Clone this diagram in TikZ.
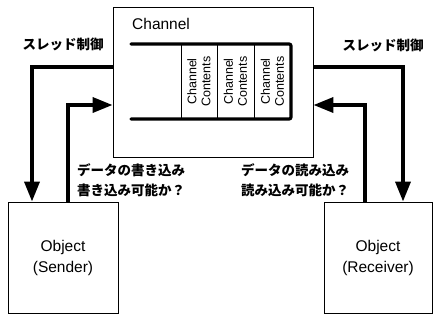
\documentclass[tikz,border=0pt]{standalone}
\usepackage{fontspec}
\setmainfont{Liberation Sans}
\newfontfamily\jp{Noto Sans CJK JP}
\usetikzlibrary{arrows.meta}
\begin{document}
\begin{tikzpicture}[x=1pt,y=-1pt,
  box/.style={draw,line width=0.9pt,inner sep=0pt},
  pipe/.style={line width=3.2pt,line cap=round,rounded corners=2pt},
  divider/.style={line width=1pt},
  flow/.style={line width=3.6pt,-{Triangle[length=20pt,width=15pt]}},
  jlabel/.style={font=\jp\bfseries\fontsize{13.5}{20}\selectfont,inner sep=0pt,align=left},
  objtext/.style={font=\fontsize{15.5}{21}\selectfont,align=center},
  cont/.style={font=\fontsize{12.5}{14}\selectfont,rotate=90,align=center,inner sep=0pt}]
\useasboundingbox (0,0) rectangle (433,325);
% boxes
\node[box,minimum width=200pt,minimum height=150pt] (channel) at (213,82) {};
\node[box,minimum width=110pt,minimum height=111pt] (sender) at (63,257.5) {};
\node[box,minimum width=108pt,minimum height=111pt] (receiver) at (378,257.5) {};
\node[objtext] (sendertext) at (sender.center) {Object\\(Sender)};
\node[objtext] (receivertext) at (receiver.center) {Object\\(Receiver)};
\node[anchor=base west,font=\fontsize{15.5}{18}\selectfont,inner sep=0pt] (chlabel) at (132,29) {Channel};
% pipe
\coordinate (p1) at (131,44);
\coordinate (p2) at (291,44);
\coordinate (p3) at (291,119);
\coordinate (p4) at (131,119);
\draw[pipe] (p1) -- (p2) -- (p3) -- (p4);
\coordinate (d1t) at (181,44); \coordinate (d1b) at (181,119);
\coordinate (d2t) at (217,44); \coordinate (d2b) at (217,119);
\coordinate (d3t) at (254,44); \coordinate (d3b) at (254,119);
\draw[divider] (d1t) -- (d1b);
\draw[divider] (d2t) -- (d2b);
\draw[divider] (d3t) -- (d3b);
\node[cont] (c1) at (199,81.5) {Channel\\Contents};
\node[cont] (c2) at (235.5,81.5) {Channel\\Contents};
\node[cont] (c3) at (272.5,81.5) {Channel\\Contents};
% connectors
\coordinate (yT) at (0,67);
\coordinate (yD) at (0,105);
\coordinate (xL1) at (32,0);
\coordinate (xL2) at (68,0);
\coordinate (xR1) at (403,0);
\coordinate (xR2) at (365,0);
\draw[flow] (channel.west |- yT) -| (sender.north -| xL1);
\draw[flow] (sender.north -| xL2) |- (channel.west |- yD);
\draw[flow] (channel.east |- yT) -| (receiver.north -| xR1);
\draw[flow] (receiver.north -| xR2) |- (channel.east |- yD);
% labels
\node[jlabel] (tl) at (63,44) {スレッド制御};
\node[jlabel] (tr) at (383,45) {スレッド制御};
\node[jlabel,anchor=north west] (wl) at (77,163) {データの書き込み\\書き込み可能か？};
\node[jlabel,anchor=north west] (rl) at (241,163) {データの読み込み\\読み込み可能か？};
\end{tikzpicture}
\end{document}
